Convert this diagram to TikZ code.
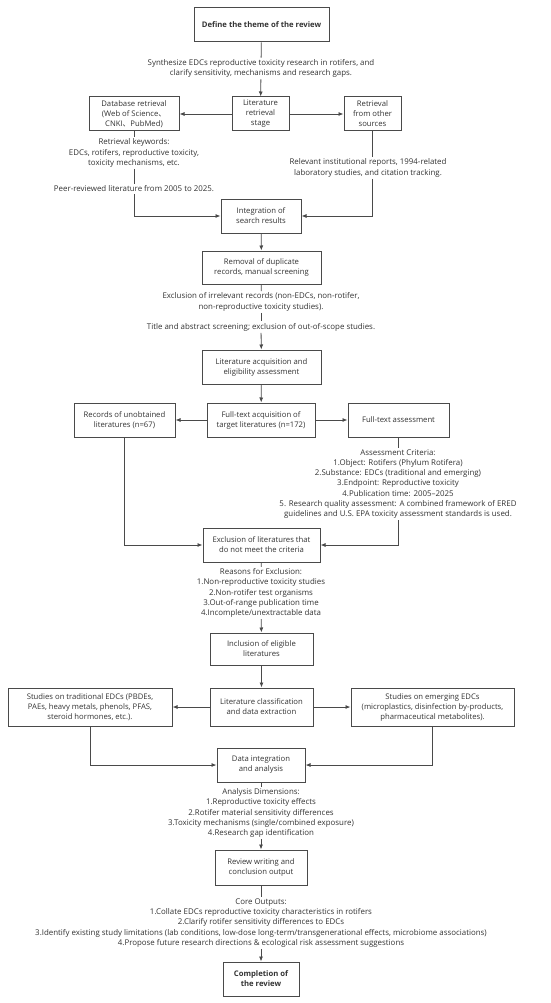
\documentclass[tikz,border=0pt]{standalone}
\usepackage{fontspec}
\setmainfont{Open Sans}
\newfontfamily\cjk{Noto Sans CJK SC}
\usetikzlibrary{arrows.meta,positioning}
\definecolor{ink}{HTML}{333333}
\definecolor{edge}{HTML}{4A4A4A}
\tikzset{
  box/.style={draw=edge, line width=1pt, text=ink, align=center, inner sep=1pt,
    font=\fontsize{7.7}{10}\selectfont},
  note/.style={text=ink, align=center, inner sep=1.6pt,
    font=\fontsize{7.9}{10.2}\selectfont},
  conn/.style={draw=edge, line width=0.8pt},
  arr/.style={conn, -{Latex[length=5pt,width=4pt]}},
}
\begin{document}
\begin{tikzpicture}[x=1pt,y=-1pt]
\useasboundingbox (0,0) rectangle (550,1003);
% boxes
\node[box, minimum width=135pt, minimum height=34pt, font=\fontsize{7.7}{10}\selectfont\bfseries] (define) at (261.5,25) {Define the theme of the review};
\node[box, minimum width=57pt, minimum height=34pt] (stage) at (260.5,114) {Literature\\retrieval\\stage};
\node[box, minimum width=90pt, minimum height=34pt] (db) at (134,114) {Database retrieval\\(Web of Science{\cjk 、}\\CNKI{\cjk 、}PubMed)};
\node[box, minimum width=57pt, minimum height=34pt] (other) at (372.5,114) {Retrieval\\from other\\sources};
\node[box, minimum width=80pt, minimum height=34pt] (integ) at (261,216) {Integration of\\search results};
\node[box, minimum width=119pt, minimum height=33pt] (remove) at (261.5,267.5) {Removal of duplicate\\records, manual screening};
\node[box, minimum width=119pt, minimum height=34pt] (acq) at (261.5,367) {Literature acquisition and\\eligibility assessment};
\node[box, minimum width=108pt, minimum height=34pt] (full) at (261,420) {Full-text acquisition of\\target literatures (n=172)};
\node[box, minimum width=101pt, minimum height=34pt] (unob) at (124.5,420) {Records of unobtained\\literatures (n=67)};
\node[box, minimum width=101pt, minimum height=34pt] (assess) at (398.5,420) {Full-text assessment};
\node[box, minimum width=117pt, minimum height=34pt] (excl) at (261.5,545) {Exclusion of literatures that\\do not meet the criteria};
\node[box, minimum width=103pt, minimum height=32pt] (incl) at (261.5,649) {Inclusion of eligible\\literatures};
\node[box, minimum width=103pt, minimum height=38pt] (class) at (261.5,707) {Literature classification\\and data extraction};
\node[box, minimum width=164pt, minimum height=38pt] (trad) at (90,707) {Studies on traditional EDCs (PBDEs,\\PAEs, heavy metals, phenols, PFAS,\\steroid hormones, etc.).};
\node[box, minimum width=163pt, minimum height=38pt] (emerg) at (432.5,707) {Studies on emerging EDCs\\(microplastics, disinfection by-products,\\pharmaceutical metabolites).};
\node[box, minimum width=88pt, minimum height=34pt] (dint) at (261,765) {Data integration\\and analysis};
\node[box, minimum width=92pt, minimum height=35pt] (review) at (261,867.5) {Review writing and\\conclusion output};
\node[box, minimum width=76pt, minimum height=34pt, font=\fontsize{7.7}{10}\selectfont\bfseries] (complete) at (261,979) {Completion of\\the review};
% notes
\node[note] (syn) at (261,68.5) {Synthesize EDCs reproductive toxicity research in rotifers, and\\clarify sensitivity, mechanisms and research gaps.};
\node[note] (kw) at (134,153) {Retrieval keywords:\\EDCs, rotifers, reproductive toxicity,\\toxicity mechanisms, etc.};
\node[note] (peer) at (134,189) {Peer-reviewed literature from 2005 to 2025.};
\node[note] (rel) at (368,168) {Relevant institutional reports, 1994-related\\laboratory studies, and citation tracking.};
\node[note] (irr) at (261,302) {Exclusion of irrelevant records (non-EDCs, non-rotifer,\\non-reproductive toxicity studies).};
\node[note] (title) at (261,327) {Title and abstract screening; exclusion of out-of-scope studies.};
\node[note] (crit) at (398,484) {Assessment Criteria:\\1.Object: Rotifers (Phylum Rotifera)\\2.Substance: EDCs (traditional and emerging)\\3.Endpoint: Reproductive toxicity\\4.Publication time: 2005--2025\\5. Research quality assessment: A combined framework of ERED\\guidelines and U.S. EPA toxicity assessment standards is used.};
\node[note] (reas) at (261,593) {Reasons for Exclusion:\\1.Non-reproductive toxicity studies\\2.Non-rotifer test organisms\\3.Out-of-range publication time\\4.Incomplete/unextractable data};
\node[note] (dims) at (261,813) {Analysis Dimensions:\\1.Reproductive toxicity effects\\2.Rotifer material sensitivity differences\\3.Toxicity mechanisms (single/combined exposure)\\4.Research gap identification};
\node[note] (core) at (261,923) {Core Outputs:\\1.Collate EDCs reproductive toxicity characteristics in rotifers\\2.Clarify rotifer sensitivity differences to EDCs\\3.Identify existing study limitations (lab conditions, low-dose long-term/transgenerational effects, microbiome associations)\\4.Propose future research directions \& ecological risk assessment suggestions};
% connectors
\draw[conn] (define) -- (syn);
\draw[arr] (syn) -- (stage);
\draw[arr] (stage) -- (db);
\draw[arr] (stage) -- (other);
\draw[conn] (db) -- (kw);
\draw[conn] (kw) -- (peer);
\draw[arr] (peer.south) |- (integ.west);
\draw[conn] (other.south) -- (other.south |- rel.north);
\draw[arr] (other.south |- rel.south) |- (integ.east);
\draw[arr] (integ) -- (remove);
\draw[conn] (remove) -- (irr);
\draw[conn] (irr) -- (title);
\draw[arr] (title) -- (acq);
\draw[arr] (acq) -- (full);
\draw[arr] (full) -- (unob);
\draw[arr] (full) -- (assess);
\draw[conn] (assess.south) -- (assess.south |- crit.north);
\draw[arr] (assess.south |- crit.south) |- (excl.east);
\draw[arr] (unob.south) |- (excl.west);
\draw[conn] (excl) -- (reas);
\draw[arr] (reas) -- (incl);
\draw[arr] (incl) -- (class);
\draw[arr] (class) -- (trad);
\draw[arr] (class) -- (emerg);
\draw[arr] (trad.south) |- (dint.west);
\draw[arr] (emerg.south) |- (dint.east);
\draw[conn] (dint) -- (dims);
\draw[arr] (dims) -- (review);
\draw[conn] (review) -- (core);
\draw[arr] (core) -- (complete);
\end{tikzpicture}
\end{document}
